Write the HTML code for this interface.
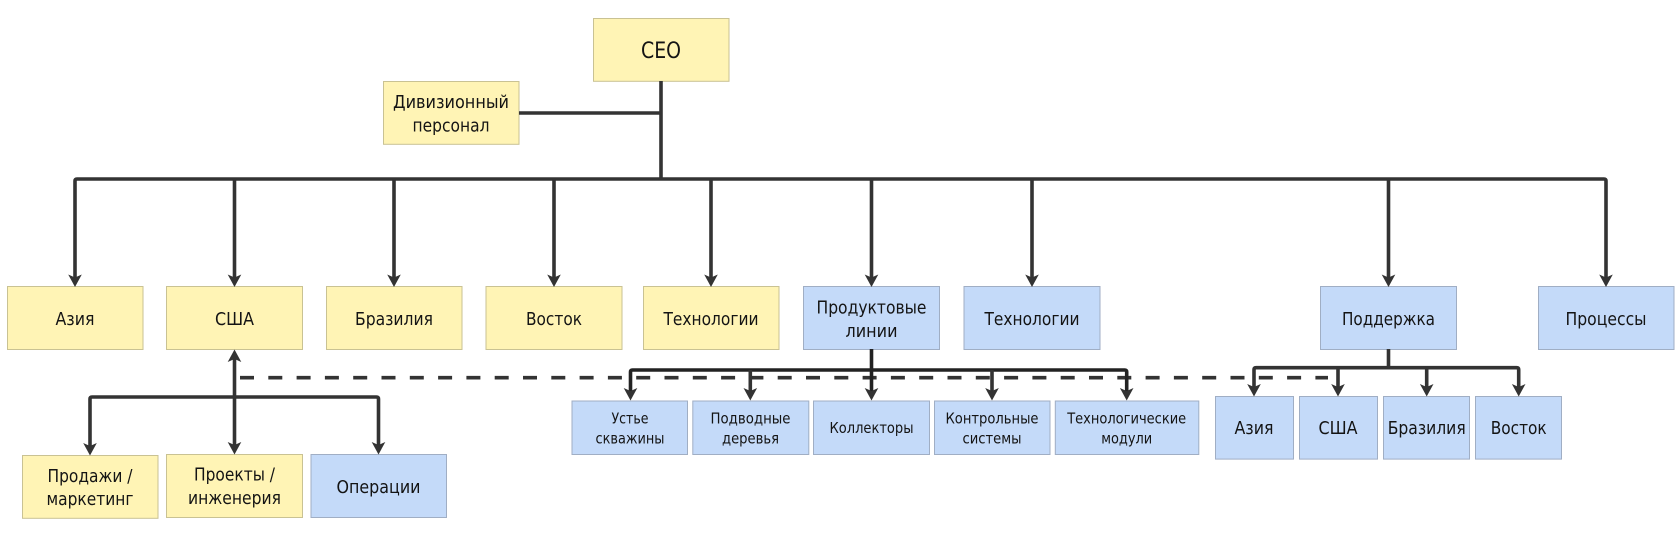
<!DOCTYPE html>
<html lang="ru">
<head>
<meta charset="utf-8">
<title>Org chart</title>
<style>
html,body{margin:0;padding:0;background:#fff;width:1680px;height:533px;overflow:hidden}
svg{display:block}
.y{fill:#fff4b5;stroke:#c9c293;stroke-width:1}
.b{fill:#c4daf9;stroke:#a0aec4;stroke-width:1}
text{font-family:"DejaVu Sans","Liberation Sans",sans-serif;font-size:18px;fill:#141414;text-anchor:middle}
text.s{font-size:15.2px}
.l{fill:none;stroke:#333;stroke-width:3.6;stroke-linejoin:round}
.k{fill:none;stroke:#222;stroke-width:3.6;stroke-linejoin:round}
.d{fill:none;stroke:#333;stroke-width:3.6;stroke-dasharray:14 14.3}
.a{fill:#333}
</style>
</head>
<body>
<svg width="1680" height="533" viewBox="0 0 1680 533" xmlns="http://www.w3.org/2000/svg">
<defs>
<polygon id="ar" points="0,0 6.8,-12.5 0,-9.5 -6.8,-12.5"/>
</defs>

<!-- boxes -->
<rect class="y" x="593.5" y="18.5" width="135.5" height="62.8"/>
<rect class="y" x="383.5" y="81.5" width="135.5" height="62.8"/>
<rect class="y" x="7.5" y="286.5" width="135.5" height="63"/>
<rect class="y" x="166.5" y="286.5" width="136" height="63"/>
<rect class="y" x="326.5" y="286.5" width="135.5" height="63"/>
<rect class="y" x="486" y="286.5" width="136" height="63"/>
<rect class="y" x="643.5" y="286.5" width="135.5" height="63"/>
<rect class="b" x="803.5" y="286.5" width="136" height="63"/>
<rect class="b" x="964" y="286.5" width="136" height="63"/>
<rect class="b" x="1320.5" y="286.5" width="136" height="63"/>
<rect class="b" x="1538.5" y="286.5" width="135.5" height="63"/>
<rect class="y" x="22.5" y="455.5" width="135.5" height="62.8"/>
<rect class="y" x="166.5" y="454.5" width="136" height="63"/>
<rect class="b" x="311" y="454.5" width="135.5" height="63"/>
<rect class="b" x="572" y="401" width="115.5" height="53.5"/>
<rect class="b" x="692.8" y="401" width="116" height="53.5"/>
<rect class="b" x="813.5" y="401" width="116" height="53.5"/>
<rect class="b" x="934.5" y="401" width="115.5" height="53.5"/>
<rect class="b" x="1055.3" y="401" width="143.5" height="53.5"/>
<rect class="b" x="1215.5" y="396.5" width="78" height="62.6"/>
<rect class="b" x="1299.5" y="396.5" width="78" height="62.6"/>
<rect class="b" x="1383.5" y="396.5" width="86" height="62.6"/>
<rect class="b" x="1475.5" y="396.5" width="86" height="62.6"/>

<!-- dashed -->
<path class="d" d="M240 377.7H1328"/>

<!-- connectors -->
<path class="l" d="M661 81V179M519 113H661"/>
<path class="l" d="M75 280V181Q75 179 77 179H1604Q1606 179 1606 181V280"/>
<path class="l" d="M234.5 179V280M394 179V280M554 179V280M711 179V280M871.5 179V280M1032 179V280M1388.5 179V280"/>
<path class="l" d="M234.5 358V449"/>
<path class="l" d="M90 450V399Q90 397 92 397H376.5Q378.5 397 378.5 399V449"/>
<path class="k" d="M871.5 349V394"/>
<path class="k" d="M630.5 394V372Q630.5 370 632.5 370H1124.7Q1126.7 370 1126.7 372V394"/>
<path class="l" d="M750.3 370V394M992 370V394"/>
<path class="l" d="M1388.5 349V367.7M1254 390V369.7Q1254 367.7 1256 367.7H1516.7Q1518.7 367.7 1518.7 369.7V390M1338 367.7V390M1426.7 367.7V390"/>

<!-- arrowheads -->
<g class="a">
<use href="#ar" x="75" y="287"/><use href="#ar" x="234.5" y="287"/><use href="#ar" x="394" y="287"/>
<use href="#ar" x="554" y="287"/><use href="#ar" x="711" y="287"/><use href="#ar" x="871.5" y="287"/>
<use href="#ar" x="1032" y="287"/><use href="#ar" x="1388.5" y="287"/><use href="#ar" x="1606" y="287"/>
<polygon points="234.5,349.5 241.3,362 234.5,359 227.7,362"/>
<use href="#ar" x="90" y="455.5"/><use href="#ar" x="234.5" y="454.5"/><use href="#ar" x="378.5" y="454.5"/>
<use href="#ar" x="630.5" y="400.5"/><use href="#ar" x="750.3" y="400.5"/><use href="#ar" x="871.5" y="400.5"/>
<use href="#ar" x="992" y="400.5"/><use href="#ar" x="1126.7" y="400.5"/>
<use href="#ar" x="1254" y="396.5"/><use href="#ar" x="1338" y="396.5"/><use href="#ar" x="1426.7" y="396.5"/><use href="#ar" x="1518.7" y="396.5"/>
</g>

<!-- labels -->
<text x="661" y="58" style="font-size:22px" textLength="40" lengthAdjust="spacingAndGlyphs">CEO</text>
<text x="451" y="108" textLength="116" lengthAdjust="spacingAndGlyphs">Дивизионный</text>
<text x="451" y="131.7" textLength="77" lengthAdjust="spacingAndGlyphs">персонал</text>
<text x="75" y="325" textLength="39" lengthAdjust="spacingAndGlyphs">Азия</text>
<text x="234.5" y="325" textLength="39" lengthAdjust="spacingAndGlyphs">США</text>
<text x="394" y="325" textLength="78" lengthAdjust="spacingAndGlyphs">Бразилия</text>
<text x="554" y="325" textLength="56" lengthAdjust="spacingAndGlyphs">Восток</text>
<text x="711" y="325" textLength="95" lengthAdjust="spacingAndGlyphs">Технологии</text>
<text x="871.5" y="313.7" textLength="110" lengthAdjust="spacingAndGlyphs">Продуктовые</text>
<text x="871.5" y="337" textLength="52" lengthAdjust="spacingAndGlyphs">линии</text>
<text x="1032" y="325" textLength="95" lengthAdjust="spacingAndGlyphs">Технологии</text>
<text x="1388.5" y="325" textLength="93" lengthAdjust="spacingAndGlyphs">Поддержка</text>
<text x="1606" y="325" textLength="81" lengthAdjust="spacingAndGlyphs">Процессы</text>
<text x="90" y="482" textLength="85" lengthAdjust="spacingAndGlyphs">Продажи /</text>
<text x="90" y="505" textLength="87" lengthAdjust="spacingAndGlyphs">маркетинг</text>
<text x="234.5" y="480.7" textLength="81" lengthAdjust="spacingAndGlyphs">Проекты /</text>
<text x="234.5" y="504" textLength="93" lengthAdjust="spacingAndGlyphs">инженерия</text>
<text x="378.5" y="493" textLength="84" lengthAdjust="spacingAndGlyphs">Операции</text>
<text class="s" x="630" y="423.7" textLength="37" lengthAdjust="spacingAndGlyphs">Устье</text>
<text class="s" x="630" y="443.3" textLength="69" lengthAdjust="spacingAndGlyphs">скважины</text>
<text class="s" x="750.5" y="423.7" textLength="80" lengthAdjust="spacingAndGlyphs">Подводные</text>
<text class="s" x="750.5" y="443.3" textLength="57" lengthAdjust="spacingAndGlyphs">деревья</text>
<text class="s" x="871.5" y="433" textLength="84" lengthAdjust="spacingAndGlyphs">Коллекторы</text>
<text class="s" x="992" y="423.7" textLength="93" lengthAdjust="spacingAndGlyphs">Контрольные</text>
<text class="s" x="992" y="443.3" textLength="59" lengthAdjust="spacingAndGlyphs">системы</text>
<text class="s" x="1126.7" y="423.7" textLength="119" lengthAdjust="spacingAndGlyphs">Технологические</text>
<text class="s" x="1126.7" y="443.3" textLength="51" lengthAdjust="spacingAndGlyphs">модули</text>
<text x="1254" y="434" textLength="39" lengthAdjust="spacingAndGlyphs">Азия</text>
<text x="1338" y="434" textLength="39" lengthAdjust="spacingAndGlyphs">США</text>
<text x="1426.7" y="434" textLength="78" lengthAdjust="spacingAndGlyphs">Бразилия</text>
<text x="1518.7" y="434" textLength="56" lengthAdjust="spacingAndGlyphs">Восток</text>
</svg>
</body>
</html>
